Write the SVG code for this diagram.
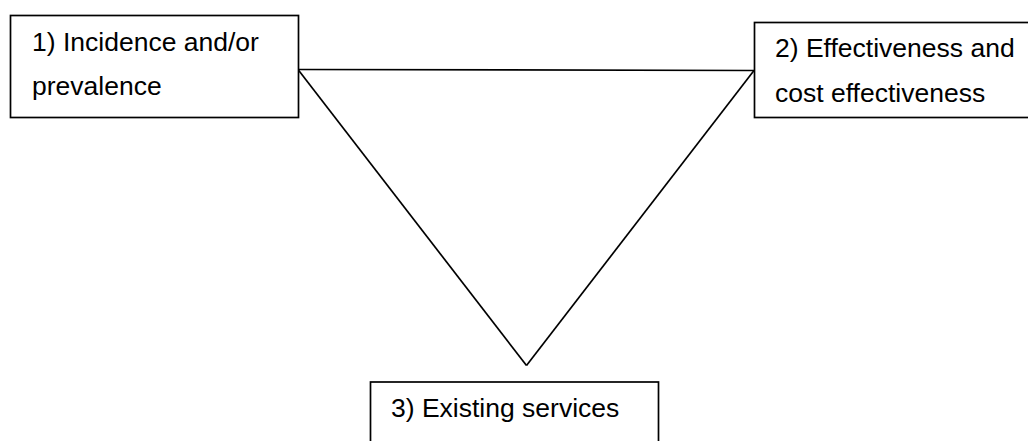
<svg xmlns="http://www.w3.org/2000/svg" width="1028" height="441" viewBox="0 0 1028 441">
<style>
.box{fill:#fff;stroke:#000;stroke-width:1.7}
.lbl{font-family:"Liberation Sans",Arial,sans-serif;font-size:26.5px;fill:#000}
.con{fill:none;stroke:#000;stroke-width:1.7}
</style>
<rect width="1028" height="441" fill="#fff"/>
<g id="connectors">
<line class="con" x1="298" y1="69.5" x2="754" y2="70.5"/>
<line class="con" x1="298" y1="69.5" x2="526.5" y2="365.5"/>
<line class="con" x1="754" y1="70.5" x2="526.5" y2="365.5"/>
</g>
<g id="node1">
<rect class="box" x="10.5" y="15.5" width="288" height="102"/>
<text class="lbl" x="32" y="51">1) Incidence and/or</text>
<text class="lbl" x="32" y="95">prevalence</text>
</g>
<g id="node2">
<rect class="box" x="754.5" y="22.5" width="290" height="95"/>
<text class="lbl" x="775" y="56.5">2) Effectiveness and</text>
<text class="lbl" x="775" y="101.5">cost effectiveness</text>
</g>
<g id="node3">
<rect class="box" x="370.5" y="382" width="288" height="80"/>
<text class="lbl" x="391" y="417">3) Existing services</text>
</g>
</svg>
